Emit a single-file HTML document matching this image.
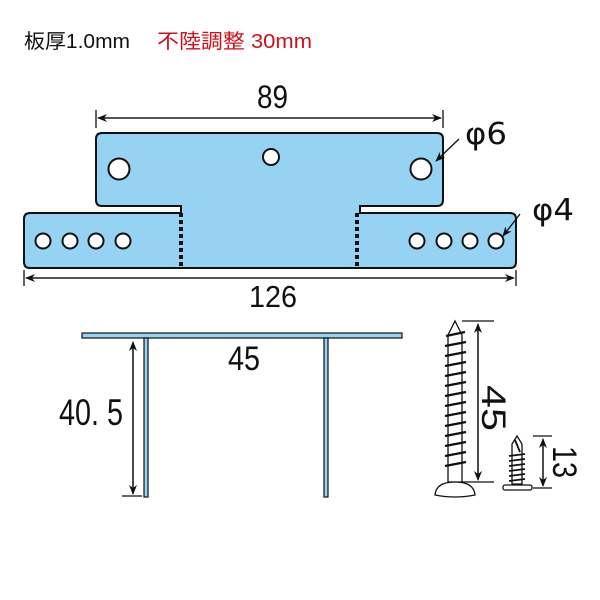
<!DOCTYPE html>
<html><head><meta charset="utf-8"><style>html,body{margin:0;padding:0;background:#fff}svg{display:block}</style></head>
<body>
<svg width="600" height="600" viewBox="0 0 600 600" xmlns="http://www.w3.org/2000/svg" font-family="Liberation Sans, sans-serif">
<defs>
<marker id="a" markerWidth="10" markerHeight="8" refX="9" refY="4" orient="auto" markerUnits="userSpaceOnUse"><path d="M0,0 L10,4 L0,8 L3,4 z" fill="#111"/></marker>
</defs>
<text x="24" y="48" font-size="20" fill="#111" textLength="106" lengthAdjust="spacingAndGlyphs" font-family="Liberation Sans, Noto Sans CJK JP, sans-serif">板厚1.0mm</text>
<text x="157" y="48" font-size="20" fill="#d0101c" textLength="155" lengthAdjust="spacingAndGlyphs" font-family="Liberation Sans, Noto Sans CJK JP, sans-serif">不陸調整 30mm</text>

<path d="M102,133 H437 Q443,133 443,139 V200 Q443,206 437,206 H360 V213 H510 Q516,213 516,219 V262 Q516,268 510,268 H30 Q24,268 24,262 V219 Q24,213 30,213 H181 V206 H102 Q96,206 96,200 V139 Q96,133 102,133 Z" fill="#96d3f3" stroke="#111" stroke-width="2"/>
<g stroke="#111" stroke-width="4" stroke-dasharray="4,3">
<line x1="181" y1="213" x2="181" y2="268"/><line x1="357" y1="213" x2="357" y2="268"/>
</g>
<g fill="#fff" stroke="#111" stroke-width="2">
<circle cx="119" cy="169" r="10.5"/><circle cx="421" cy="169" r="10.5"/><circle cx="271" cy="157" r="8"/>
<circle cx="43" cy="241" r="7.5"/><circle cx="70" cy="241" r="7.5"/><circle cx="96" cy="241" r="7.5"/><circle cx="123" cy="241" r="7.5"/>
<circle cx="417" cy="241" r="7.5"/><circle cx="444" cy="241" r="7.5"/><circle cx="470" cy="241" r="7.5"/><circle cx="496" cy="241" r="7.5"/>
</g>
<g stroke="#111" stroke-width="1.3" fill="none">
<line x1="96" y1="110" x2="96" y2="128"/><line x1="443" y1="110" x2="443" y2="128"/>
<line x1="100" y1="118" x2="441" y2="118" marker-end="url(#a)"/><line x1="440" y1="118" x2="98" y2="118" marker-end="url(#a)"/>
<line x1="24" y1="270" x2="24" y2="286"/><line x1="516" y1="270" x2="516" y2="286"/>
<line x1="30" y1="278" x2="514" y2="278" marker-end="url(#a)"/><line x1="510" y1="278" x2="26" y2="278" marker-end="url(#a)"/>
<line x1="459" y1="139" x2="436" y2="161" marker-end="url(#a)"/>
<line x1="520" y1="214" x2="503" y2="236" marker-end="url(#a)"/>
</g>
<text x="257" y="108" font-size="32" fill="#111" textLength="31" lengthAdjust="spacingAndGlyphs">89</text>
<text x="249" y="307" font-size="31" fill="#111" textLength="48" lengthAdjust="spacingAndGlyphs">126</text>
<text x="465" y="144" font-size="30" fill="#111" textLength="42" lengthAdjust="spacingAndGlyphs" font-family="DejaVu Sans, sans-serif">φ6</text>
<text x="532" y="220" font-size="30" fill="#111" textLength="42" lengthAdjust="spacingAndGlyphs" font-family="DejaVu Sans, sans-serif">φ4</text>

<g fill="#96d3f3" stroke="#111" stroke-width="1.2">
<rect x="82" y="333" width="320" height="5"/>
<rect x="144" y="338" width="4" height="159"/>
<rect x="324" y="338" width="4" height="159"/>
</g>
<g stroke="#111" stroke-width="1.3">
<line x1="133" y1="490" x2="133" y2="342" marker-end="url(#a)"/>
<line x1="133" y1="344" x2="133" y2="494" marker-end="url(#a)"/>
<line x1="122" y1="496" x2="142" y2="496"/>
</g>
<text x="228" y="370" font-size="34" fill="#111" textLength="32" lengthAdjust="spacingAndGlyphs">45</text>
<text x="59" y="425" font-size="37" fill="#111" textLength="64" lengthAdjust="spacingAndGlyphs">40. 5</text>

<g stroke="#111" stroke-width="1.3" fill="#fff">
<path d="M455,321 L462,335 L462,482 L448,482 L448,335 Z"/>
<path d="M435,495 Q436,482 455,482 Q474,482 475,495 Q455,499 435,495 Z"/>
</g>
<g stroke="#111" stroke-width="2.4" fill="none">
<path d="M446,336 L465,332 M445,346 L466,342 M445,356 L466,352 M445,366 L466,362 M445,376 L466,372 M445,386 L466,382 M445,396 L466,392 M445,406 L466,402 M445,416 L466,412 M445,426 L466,422 M445,436 L466,432 M445,446 L466,442 M445,456 L466,452 M445,466 L466,462"/>
</g>
<g stroke="#111" stroke-width="1.3">
<line x1="462" y1="321" x2="494" y2="321"/><line x1="462" y1="482" x2="494" y2="482"/>
<line x1="478" y1="478" x2="478" y2="324" marker-end="url(#a)"/>
<line x1="478" y1="326" x2="478" y2="480" marker-end="url(#a)"/>
</g>
<text transform="translate(482,385) rotate(90)" font-size="34" fill="#111" textLength="46" lengthAdjust="spacingAndGlyphs">45</text>

<g stroke="#111" stroke-width="1.3" fill="#fff">
<path d="M517,436 L522,444 L522,484 L512,484 L512,444 Z"/>
<rect x="503" y="485" width="29" height="5" rx="2"/>
</g>
<g stroke="#111" stroke-width="1.8" fill="none">
<path d="M509,456 L525,454 M509,461 L525,459 M509,466 L525,464 M509,471 L525,469 M509,476 L525,474 M509,481 L525,479"/>
<path d="M515,440 L520,452"/>
</g>
<g stroke="#111" stroke-width="1.3">
<line x1="533" y1="436" x2="552" y2="436"/><line x1="533" y1="488" x2="552" y2="488"/>
<line x1="543" y1="485" x2="543" y2="439" marker-end="url(#a)"/>
<line x1="543" y1="440" x2="543" y2="486" marker-end="url(#a)"/>
</g>
<text transform="translate(553,446) rotate(90)" font-size="34" fill="#111" textLength="32" lengthAdjust="spacingAndGlyphs">13</text>
</svg>
</body></html>
